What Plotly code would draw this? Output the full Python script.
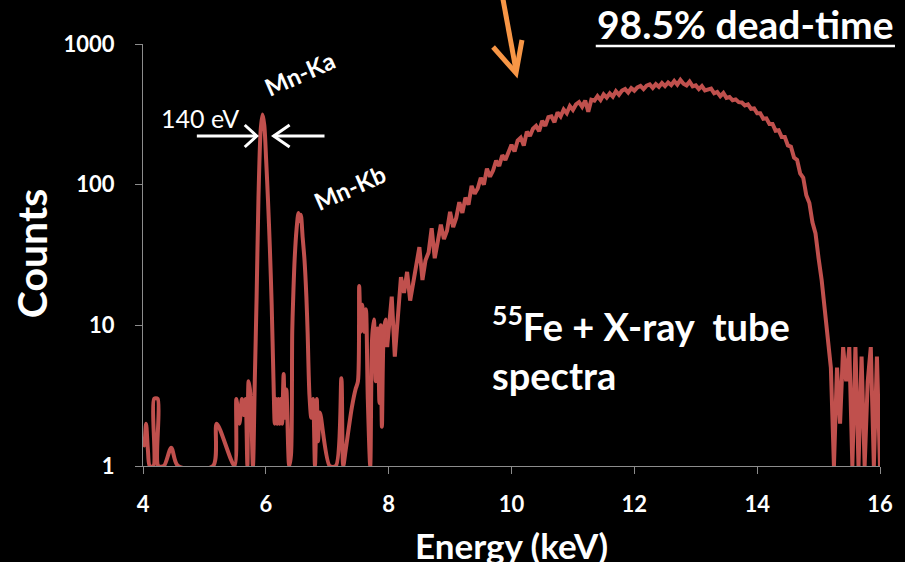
import plotly.graph_objects as go

# Low-energy part of the spectrum: only non-empty bins (log scale hides zero counts)
low_energy_kev = [
    4.00, 4.02, 4.05, 4.08, 4.11, 4.17, 4.18, 4.24, 4.25, 4.34, 4.46, 4.57,
    5.14, 5.20, 5.49, 5.52, 5.57, 5.61, 5.64, 5.67, 5.70, 5.72, 5.75, 5.79,
    5.82, 5.85, 5.88, 5.915, 5.945, 5.975, 6.005, 6.035, 6.065, 6.095, 6.125,
    6.145, 6.165, 6.185, 6.205, 6.225, 6.245, 6.265, 6.29, 6.31, 6.335, 6.38,
    6.41, 6.43, 6.45, 6.47, 6.50, 6.53, 6.55, 6.57, 6.60, 6.63, 6.66, 6.68,
    6.71, 6.74, 6.77, 6.80, 6.83, 6.85, 6.88, 7.04, 7.14, 7.23, 7.26, 7.30,
    7.40, 7.46, 7.50, 7.52, 7.545, 7.57, 7.60, 7.63, 7.66, 7.70, 7.73, 7.76,
    7.79, 7.82, 7.85, 7.87, 7.89, 7.92, 7.95, 7.975,
]
low_counts = [
    1.5, 1.4, 2.0, 1.3, 1.0, 1.0, 3.0, 3.0, 1.0, 1.0, 1.35, 1.0,
    1.0, 2.0, 1.0, 3.0, 2.0, 3.0, 2.3, 3.0, 1.0, 4.0, 3.2, 1.0,
    4.0, 16, 80, 240, 315, 265, 150, 78, 36, 14, 4.0,
    2.0, 3.0, 2.0, 3.0, 2.0, 3.0, 2.0, 4.5, 2.2, 3.5, 1.0,
    1.2, 9, 18, 30, 48, 63, 55, 61, 42, 29, 16, 9,
    3.2, 2.2, 3.0, 1.0, 3.0, 1.5, 2.4, 1.0, 1.0, 4.2, 1.0, 1.3,
    2.6, 3.5, 4.0, 19, 9, 14, 9, 13, 3.0, 1.0, 8, 11,
    4, 9.5, 2.8, 10, 1.9, 9, 11, 7,
]

# X-ray tube continuum, 50 eV bins from 8.00 keV to 16.00 keV
cont_start_kev = 8.0
cont_bin_kev = 0.05
cont_counts = [
    9, 16, 6, 12, 22, 17, 24, 15, 20, 27,
    36, 21, 29, 33, 49, 30, 40, 52, 41, 47,
    64, 50, 58, 75, 63, 81, 72, 98, 86, 94,
    112, 100, 130, 114, 126, 148, 136, 162, 150, 170,
    192, 172, 206, 216, 190, 238, 222, 250, 262, 240,
    284, 262, 302, 306, 278, 326, 306, 342, 322, 362,
    340, 372, 386, 358, 396, 330, 402, 396, 426, 400,
    438, 416, 446, 422, 462, 436, 466, 478, 452, 486,
    466, 492, 504, 478, 506, 516, 488, 518, 496, 528,
    502, 532, 510, 546, 514, 556, 522, 508, 540, 500,
    508, 478, 502, 468, 474, 482, 446, 456, 426, 448,
    414, 420, 398, 404, 386, 384, 366, 372, 346, 348,
    322, 322, 294, 296, 270, 270, 242, 244, 218, 218,
    190, 186, 156, 150, 120, 112, 84, 74, 54, 45,
    30, 21, 13, 8, 5, 1, 5, 2, 7, 4,
    7, 1, 7, 1, 6, 1, 4, 7, 1, 6,
    1,
]

x_ticks = [4, 6, 8, 10, 12, 14, 16]
y_ticks = [1, 10, 100, 1000]
y_tick_text = ["1", "10", "100", "1000"]

cont_energy_kev = [round(cont_start_kev + cont_bin_kev * i, 3) for i in range(len(cont_counts))]

# Figure geometry (pixels)
W, H = 905, 562
L, R, T, B = 143, 882, 44, 466


def paper(px, py):
    """Convert a page pixel position into paper coordinates."""
    return (px - L) / (R - L), (B - py) / (B - T)


FONT = "Lato"
WHITE = "#FFFFFF"
RED = "#C0504D"
ORANGE = "#F79646"
AXIS = "#8C8C8C"
LINE_W = 4

fig = go.Figure()
# sparse low-energy bins: smoothed line
fig.add_trace(go.Scatter(
    x=low_energy_kev, y=low_counts, mode="lines",
    line=dict(color=RED, width=LINE_W, shape="spline", smoothing=0.8),
    hoverinfo="skip", showlegend=False,
))
# continuum: straight segments, joined to the last low-energy bin
fig.add_trace(go.Scatter(
    x=low_energy_kev[-1:] + cont_energy_kev, y=low_counts[-1:] + cont_counts, mode="lines",
    line=dict(color=RED, width=LINE_W, shape="linear"),
    hoverinfo="skip", showlegend=False,
))

axis_common = dict(
    showgrid=False, zeroline=False, showline=True, linecolor=AXIS, linewidth=1,
    ticks="outside", ticklen=7, tickcolor=AXIS, tickwidth=1,
    tickfont=dict(family=FONT, size=22, color=WHITE, weight="bold"),
)
fig.update_xaxes(range=[4, 16], tickvals=x_ticks, ticklabelstandoff=12, **axis_common)
fig.update_yaxes(type="log", range=[0, 3], tickvals=y_ticks, ticktext=y_tick_text,
                 ticklabelstandoff=16, **axis_common)

annotations = []


def label(px, py, text, size, bold=True, angle=0, xanchor="center", yanchor="middle", align="center"):
    x, y = paper(px, py)
    annotations.append(dict(
        x=x, y=y, xref="paper", yref="paper", text=text, showarrow=False,
        textangle=angle, xanchor=xanchor, yanchor=yanchor, align=align,
        font=dict(family=FONT, size=size, color=WHITE, weight="bold" if bold else "normal"),
    ))


label(31, 254, "Counts", 41, angle=-90)
label(512, 545, "Energy (keV)", 35)
label(747, 24, "98.5% dead-time", 39)
label(491, 348, "<sup>55</sup>Fe + X-ray\u00a0 tube<br>spectra", 38, xanchor="left", align="left")
label(200, 118, "140 eV", 25, bold=False)
label(300, 74, "Mn-Ka", 24, angle=-24)
label(350, 187, "Mn-Kb", 24, angle=-24)

fig.update_layout(annotations=annotations)

shapes = []


def polyline(points, color, width):
    pts = [paper(px, py) for px, py in points]
    path = "M " + " L ".join(f"{x:.5f},{y:.5f}" for x, y in pts)
    shapes.append(dict(type="path", path=path, xref="paper", yref="paper",
                       line=dict(color=color, width=width), layer="above"))


# underline of the dead-time caption
polyline([(597, 46), (897, 46)], WHITE, 2.5)
# FWHM arrows
polyline([(197, 136), (257, 136)], WHITE, 3)
polyline([(245, 125), (257, 136), (245, 147)], WHITE, 3)
polyline([(325, 136), (274, 136)], WHITE, 3)
polyline([(290, 125), (274, 136), (290, 147)], WHITE, 3)
# orange pointer at the top
polyline([(503, -6), (517, 70)], ORANGE, 5)
polyline([(494, 47), (517, 73), (523, 40)], ORANGE, 5)

fig.update_layout(
    shapes=shapes,
    width=W, height=H,
    margin=dict(l=L, r=W - R, t=T, b=H - B, pad=0),
    paper_bgcolor="black", plot_bgcolor="black",
    showlegend=False,
)

fig.write_html("out.html")
